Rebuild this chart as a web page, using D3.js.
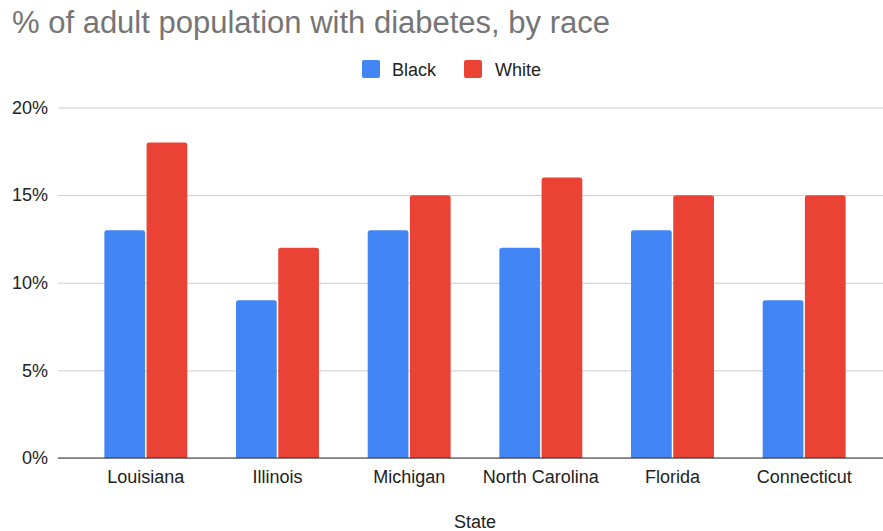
<!DOCTYPE html>
<html>
<head>
<meta charset="utf-8">
<script src="https://cdn.jsdelivr.net/npm/d3@7"></script>
<style>
  html, body { margin: 0; padding: 0; background: #fff; }
  svg { display: block; font-family: "Liberation Sans", Arial, Helvetica, sans-serif; }
</style>
</head>
<body>
<svg id="chart" width="883" height="531"></svg>
<script>
// Data
const states = ["Louisiana", "Illinois", "Michigan", "North Carolina", "Florida", "Connecticut"];
const seriesNames = ["Black", "White"];
const black = [13, 9, 13, 12, 13, 9];
const white = [18, 12, 15, 16, 15, 15];
const yTicks = [0, 5, 10, 15, 20];
const colors = ["#4285F4", "#EA4335"];

const svg = d3.select("#chart");

const plot = { left: 58, right: 883, top: 107.5, bottom: 458 };

const x0 = d3.scaleBand()
  .domain(states)
  .range([80, 870])
  .paddingInner(0.37)
  .paddingOuter(0.185);

const x1 = d3.scaleBand()
  .domain(seriesNames)
  .range([0, x0.bandwidth()])
  .paddingInner(0.035);

const y = d3.scaleLinear().domain([0, 20]).range([plot.bottom, plot.top]);

const color = d3.scaleOrdinal().domain(seriesNames).range(colors);

// Title
svg.append("text")
  .attr("x", 12).attr("y", 33)
  .attr("font-size", 31)
  .attr("fill", "#757575")
  .text("% of adult population with diabetes, by race");

// Gridlines and y labels
const yAxis = d3.axisLeft(y)
  .tickValues(yTicks)
  .tickFormat(d => d + "%")
  .tickSize(-(plot.right - plot.left))
  .tickPadding(10);

const gy = svg.append("g")
  .attr("transform", `translate(${plot.left},0)`)
  .call(yAxis);
gy.select(".domain").remove();
gy.selectAll(".tick line").attr("stroke", "#cccccc").attr("stroke-width", 1);
gy.selectAll(".tick text")
  .attr("font-size", 18)
  .attr("fill", "#222")
  .attr("font-family", "'Liberation Sans', Arial, sans-serif");

// Bars
const rows = states.map((s, i) => ({ state: s, values: [
  { key: "Black", value: black[i] },
  { key: "White", value: white[i] }
]}));

function topRounded(x, yTop, w, h, r) {
  r = Math.min(r, h, w / 2);
  return `M${x},${yTop + h}V${yTop + r}Q${x},${yTop} ${x + r},${yTop}` +
         `H${x + w - r}Q${x + w},${yTop} ${x + w},${yTop + r}V${yTop + h}Z`;
}

svg.append("g")
  .selectAll("g")
  .data(rows)
  .join("g")
  .attr("transform", d => `translate(${x0(d.state)},0)`)
  .selectAll("path")
  .data(d => d.values)
  .join("path")
  .attr("fill", d => color(d.key))
  .attr("d", d => topRounded(x1(d.key), y(d.value), x1.bandwidth(), y(0) - y(d.value), 2.5));

// Baseline
svg.append("line")
  .attr("x1", plot.left).attr("x2", plot.right)
  .attr("y1", y(0)).attr("y2", y(0))
  .attr("stroke", "#333").attr("stroke-width", 1.2);

// X axis labels
const xAxis = d3.axisBottom(x0).tickSize(0).tickPadding(12);
const gx = svg.append("g")
  .attr("transform", `translate(0,${plot.bottom})`)
  .call(xAxis);
gx.select(".domain").remove();
gx.selectAll(".tick text")
  .attr("font-size", 18)
  .attr("fill", "#222")
  .attr("font-family", "'Liberation Sans', Arial, sans-serif");

// X axis title
svg.append("text")
  .attr("x", 475).attr("y", 528)
  .attr("text-anchor", "middle")
  .attr("font-size", 18)
  .attr("fill", "#222")
  .text("State");

// Legend
const legendItems = [
  { key: "Black", x: 362, tx: 392 },
  { key: "White", x: 464, tx: 495 }
];
const lg = svg.append("g");
lg.selectAll("rect")
  .data(legendItems)
  .join("rect")
  .attr("x", d => d.x).attr("y", 60)
  .attr("width", 18).attr("height", 18)
  .attr("rx", 2)
  .attr("fill", d => color(d.key));
lg.selectAll("text")
  .data(legendItems)
  .join("text")
  .attr("x", d => d.tx).attr("y", 76)
  .attr("font-size", 18)
  .attr("fill", "#222")
  .text(d => d.key);
</script>
</body>
</html>
